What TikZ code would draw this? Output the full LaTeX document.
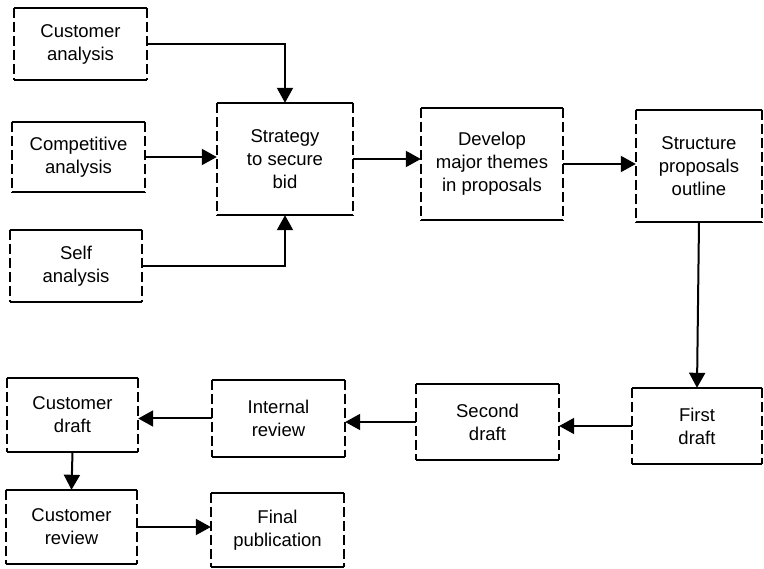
\documentclass[tikz,border=0pt]{standalone}
\usepackage{fontspec}
\setmainfont{Liberation Sans}
\usetikzlibrary{arrows.meta}
\begin{document}
\begin{tikzpicture}[x=1pt,y=-1pt,
  lbl/.style={inner sep=0pt, align=center, font=\fontsize{18.5}{23}\selectfont},
  link/.style={line width=2pt, -{Triangle[length=15pt,width=16pt]}},
  side/.style={line width=2pt, dash pattern=on 10pt off 4pt},
  edge/.style={line width=2pt}]
\useasboundingbox (0,0) rectangle (764,569);

% boxes: name / centre / width / height / text
\node[lbl, minimum width=133pt, minimum height=72pt] (ca) at (80.5,44)  {Customer\\analysis};
\node[lbl, minimum width=133pt, minimum height=70pt] (co) at (78.5,157) {Competitive\\analysis};
\node[lbl, minimum width=132pt, minimum height=72pt] (se) at (76,266)   {Self\\analysis};
\node[lbl, minimum width=136pt, minimum height=112pt] (st) at (285,159) {Strategy\\to secure\\bid};
\node[lbl, minimum width=142pt, minimum height=112pt] (dv) at (492,164) {Develop\\major themes\\in proposals};
\node[lbl, minimum width=126pt, minimum height=112pt] (su) at (699,166) {Structure\\proposals\\outline};
\node[lbl, minimum width=130pt, minimum height=76pt] (fd) at (697,426)  {First\\draft};
\node[lbl, minimum width=143pt, minimum height=76pt] (sd) at (487.5,422) {Second\\draft};
\node[lbl, minimum width=133pt, minimum height=77pt] (ir) at (278.5,418.5) {Internal\\review};
\node[lbl, minimum width=131pt, minimum height=74pt] (cd) at (72.5,415) {Customer\\draft};
\node[lbl, minimum width=131pt, minimum height=74pt] (cr) at (71.5,527) {Customer\\review};
\node[lbl, minimum width=133pt, minimum height=74pt] (fp) at (277.5,530) {Final\\publication};

% solid top and bottom edges, dashed sides
\foreach \n in {ca,co,se,st,dv,su,fd,sd,ir,cd,cr,fp}{
  \draw[edge] (\n.north west) -- (\n.north east);
  \draw[edge] (\n.south west) -- (\n.south east);
  \draw[side] (\n.north west) -- (\n.south west);
  \draw[side] (\n.north east) -- (\n.south east);
}

% connectors
\draw[link] (ca.east) -| (st.north);
\draw[link] (co.east) -- (st.west |- co.east);
\draw[link] (se.east) -| (st.south);
\draw[link] (st.east) -- (dv.west |- st.east);
\draw[link] (dv.east) -- (su.west |- dv.east);
\draw[link] (su.south) -- (fd.north);
\draw[link] (fd.west) -- (sd.east |- fd.west);
\draw[link] (sd.west) -- (ir.east |- sd.west);
\draw[link] (ir.west) -- (cd.east |- ir.west);
\draw[link] (cd.south) -- (cr.north);
\draw[link] (cr.east) -- (fp.west |- cr.east);
\end{tikzpicture}
\end{document}
